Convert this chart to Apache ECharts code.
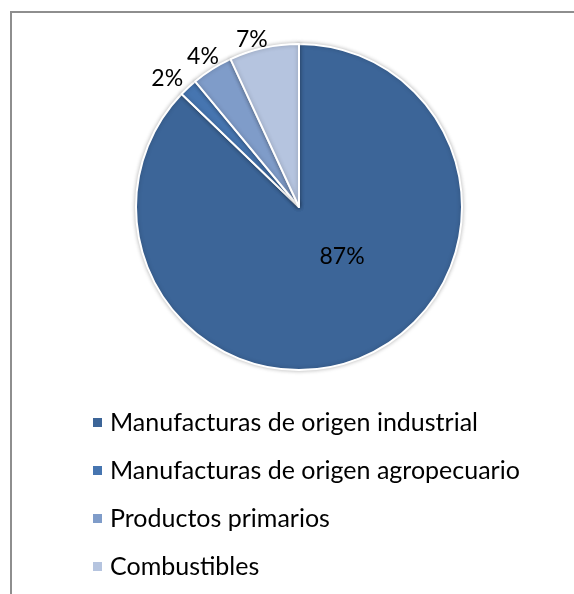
<!DOCTYPE html>
<html>
<head>
<meta charset="utf-8">
<script src="https://cdn.jsdelivr.net/npm/echarts@6/dist/echarts.min.js"></script>
<style>
html,body{margin:0;padding:0;background:#fff;overflow:hidden;}
#main{width:574px;height:594px;}
</style>
</head>
<body>
<div id="main"></div>
<script>
var categories = ['Manufacturas de origen industrial', 'Manufacturas de origen agropecuario', 'Productos primarios', 'Combustibles'];
var values = [87.2, 1.8, 4.1, 6.9];
var colors = ['#3c6598', '#4675b0', '#7f9cc9', '#b5c4df'];

// nudges so the labels sit where the original put them
var labelShift = [[10, -28], [4, -5], [15, -7], [10, -2]];

var mychart = echarts.init(document.getElementById('main'));
var data = [];
for (var i = 0; i < categories.length; i++) {
	data.push({
		name: categories[i],
		value: values[i],
		itemStyle: {color: colors[i]},
		label: {position: i === 0 ? 'inside' : 'outside'}
	});
}
mychart.setOption({
	backgroundColor: '#fff',
	animation: false,
	graphic: [{
		type: 'polyline',
		shape: {points: [[11, 900], [11, 12], [900, 12]]},
		style: {fill: null, stroke: '#8e8e8e', lineWidth: 2},
		silent: true
	}],
	legend: {
		orient: 'vertical',
		left: 86,
		top: 405,
		icon: 'rect',
		itemWidth: 11,
		itemHeight: 11,
		itemGap: 23,
		textStyle: {
			fontFamily: 'Lato',
			fontSize: 25,
			color: '#000',
			padding: [0, 0, 0, 2]
		},
		data: categories
	},
	series: [{
		type: 'pie',
		center: [299, 207],
		radius: 163,
		startAngle: 90,
		clockwise: true,
		avoidLabelOverlap: false,
		itemStyle: {
			borderColor: '#fff',
			borderWidth: 2,
			shadowBlur: 4,
			shadowColor: 'rgba(0,0,0,0.25)'
		},
		label: {
			fontFamily: 'Lato',
			fontSize: 23,
			color: '#000',
			formatter: function (p) {
				return Math.round(p.percent) + '%';
			}
		},
		labelLine: {show: false, length: 6, length2: 0},
		labelLayout: function (p) {
			var s = labelShift[p.dataIndex];
			return {dx: s[0], dy: s[1]};
		},
		emphasis: {disabled: true},
		data: data
	}]
});
</script>
</body>
</html>
